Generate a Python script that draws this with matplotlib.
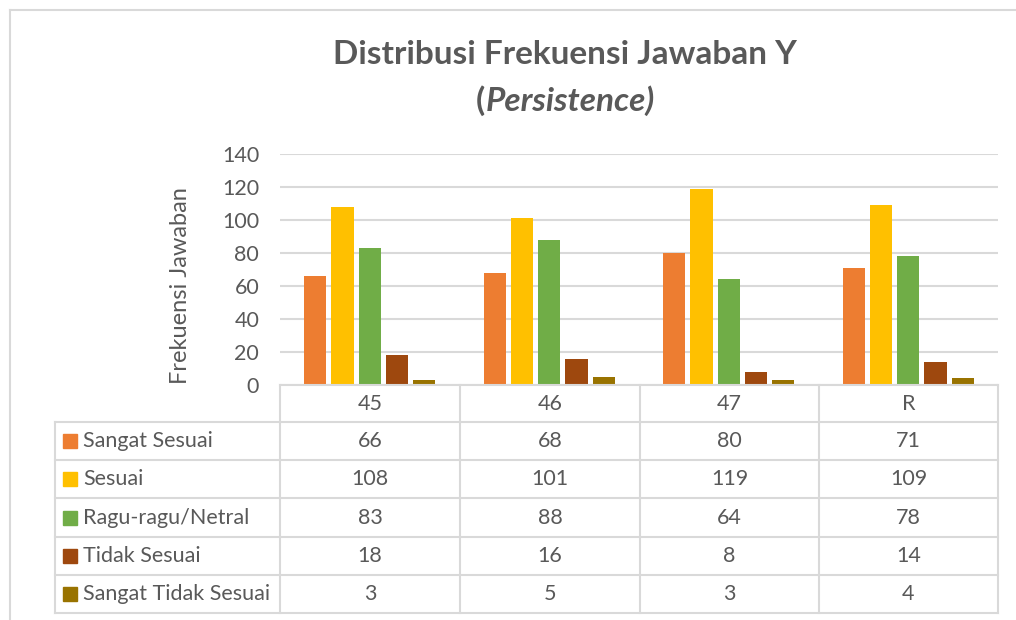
import numpy as np
import matplotlib.pyplot as plt
from matplotlib.patches import Rectangle

categories = ['45', '46', '47', 'R']
series = ['Sangat Sesuai', 'Sesuai', 'Ragu-ragu/Netral', 'Tidak Sesuai', 'Sangat Tidak Sesuai']
sangat_sesuai = [66, 68, 80, 71]
sesuai = [108, 101, 119, 109]
ragu = [83, 88, 64, 78]
tidak_sesuai = [18, 16, 8, 14]
sangat_tidak = [3, 5, 3, 4]
values = [sangat_sesuai, sesuai, ragu, tidak_sesuai, sangat_tidak]
colors = ['#ED7D31', '#FFC000', '#70AD47', '#9E480E', '#997300']

plt.rcParams['font.family'] = ['Lato', 'DejaVu Sans']
txt = '#595959'
grid = '#d9d9d9'
fs = 15.5

W, H = 1016, 620
fig = plt.figure(figsize=(W / 100, H / 100), dpi=100)

# outer chart border (cropped on right/bottom)
fig.add_artist(plt.Line2D([10 / W, 10 / W], [0, 1 - 10 / H], color=grid, lw=1.5))
fig.add_artist(plt.Line2D([10 / W, 1], [1 - 10 / H, 1 - 10 / H], color=grid, lw=1.5))

# title, second line mixes upright "(" and italic text
fig.text(565 / W, 1 - 55 / H, 'Distribusi Frekuensi Jawaban Y', ha='center', va='center',
         fontsize=24, fontweight='bold', color=txt)
t1 = fig.text(0, 0, '(', fontsize=24, fontweight='bold', color=txt, va='center')
t2 = fig.text(0, 0, 'Persistence)', fontsize=24, fontweight='bold', style='italic',
              color=txt, va='center')
fig.canvas.draw()
r = fig.canvas.get_renderer()
w1 = t1.get_window_extent(r).width
w2 = t2.get_window_extent(r).width
x0 = 565 - (w1 + w2) / 2
t1.set_position((x0 / W, 1 - 101 / H))
t2.set_position(((x0 + w1 + 1) / W, 1 - 101 / H))

# bar chart
left, right, top, bot = 280, 998, 154, 385
ax = fig.add_axes([left / W, 1 - bot / H, (right - left) / W, (bot - top) / H])
x = np.arange(len(categories))
bw = 0.123
step = 0.152
for i, (vals, c) in enumerate(zip(values, colors)):
    ax.bar(x + (i - 2) * step, vals, width=bw, color=c, zorder=3)
ax.set_xlim(-0.5, len(categories) - 0.5)
ax.set_ylim(0, 140)
ax.set_yticks(range(0, 141, 20))
ax.yaxis.grid(True, color=grid, lw=1.5, zorder=0)
ax.set_xticks([])
ax.tick_params(axis='y', length=0, labelsize=fs, labelcolor=txt, pad=15)
for s in ax.spines.values():
    s.set_visible(False)
ax.set_ylabel('Frekuensi Jawaban', fontsize=17, color=txt)
ax.yaxis.set_label_coords(-0.124, 0.43)

# data table
tl, tr, tt, tb = 55, 998, 385, 613
tax = fig.add_axes([tl / W, 1 - tb / H, (tr - tl) / W, (tb - tt) / H])
tax.set_xlim(tl, tr)
tax.set_ylim(tb, tt)
tax.axis('off')
col_x = [280, 460, 640, 819, 998]
row_y = [385, 422, 460, 498, 537, 575, 613]
kw = dict(color=grid, lw=1.5, clip_on=False)
tax.plot([280, 998], [385, 385], **kw)
for yy in row_y[1:]:
    tax.plot([55, 998], [yy, yy], **kw)
tax.plot([55, 55], [422, 613], **kw)
for xx in col_x:
    tax.plot([xx, xx], [385, 613], **kw)
for j, cat in enumerate(categories):
    cx = (col_x[j] + col_x[j + 1]) / 2
    tax.text(cx, (row_y[0] + row_y[1]) / 2, cat, ha='center', va='center', fontsize=fs, color=txt)
for i, (name, vals, c) in enumerate(zip(series, values, colors)):
    cy = (row_y[i + 1] + row_y[i + 2]) / 2
    tax.add_patch(Rectangle((63, cy - 7), 14, 14, color=c, clip_on=False))
    tax.text(83, cy, name, ha='left', va='center', fontsize=fs, color=txt)
    for j, v in enumerate(vals):
        cx = (col_x[j] + col_x[j + 1]) / 2
        tax.text(cx, cy, str(v), ha='center', va='center', fontsize=fs, color=txt)

fig.savefig('out.png', dpi=100)
